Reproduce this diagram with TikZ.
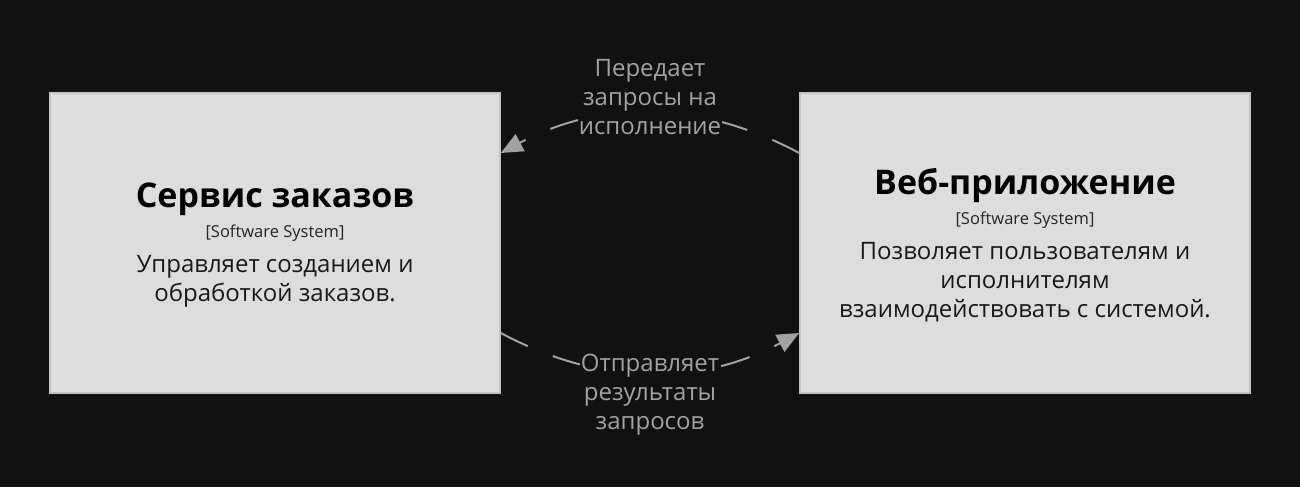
\documentclass[tikz,border=0pt]{standalone}
\usepackage{fontspec}
\setmainfont{Open Sans}
\usetikzlibrary{positioning,arrows.meta}
\definecolor{bg}{HTML}{111111}
\definecolor{boxfill}{HTML}{DDDDDD}
\definecolor{boxline}{HTML}{C4C4C4}
\definecolor{relgray}{HTML}{A2A2A2}

\begin{document}
\begin{tikzpicture}[x=1pt,y=1pt,
	sysbox/.style={draw=boxline, line width=1.5pt, fill=boxfill, minimum width=450pt, minimum height=300pt, inner sep=0pt},
	sysname/.style={font=\fontsize{34}{40}\selectfont\bfseries, text=black, inner sep=0pt},
	systype/.style={font=\fontsize{16.5}{19}\selectfont, text=black!85, inner sep=0pt},
	sysdesc/.style={font=\fontsize{24}{29}\selectfont, text=black!90, align=center, inner sep=0pt},
	rel/.style={draw=relgray, line width=2pt, dash pattern=on 30pt off 27pt, ->},
	rellabel/.style={font=\fontsize{24}{29}\selectfont, text=relgray, fill=bg, align=center, inner sep=1pt},
	>={Triangle[length=22pt,width=19pt]}]
	\fill[bg] (0,0) rectangle (1300,487);

	% order service
	\node[sysbox] (ord) at (275,244) {};
	\node[sysname, above=35pt of ord.center, anchor=base] (ordname) {Сервис заказов};
	\node[systype, below=29.7pt of ordname.base, anchor=base] (ordtype) {[Software System]};
	% base = last line
	\node[sysdesc, below=64.3pt of ordtype.base, anchor=base] (orddesc) {Управляет созданием и\\обработкой заказов.};

	% web app
	\node[sysbox] (web) at (1025,244) {};
	\node[sysname, above=48.5pt of web.center, anchor=base] (webname) {Веб-приложение};
	\node[systype, below=29.7pt of webname.base, anchor=base] (webtype) {[Software System]};
	\node[sysdesc, below=93.3pt of webtype.base, anchor=base] (webdesc) {Позволяет пользователям и\\исполнителям\\взаимодействовать с системой.};

	% relations
	\draw[rel] ([yshift=90pt]web.west) .. controls +(-100,53.3) and +(100,53.3) .. ([yshift=90pt]ord.east)
		node[rellabel, midway, yshift=16pt] (req) {Передает\\запросы на\\исполнение};
	\draw[rel] ([yshift=-90pt]ord.east) .. controls +(100,-53.3) and +(-100,-53.3) .. ([yshift=-90pt]web.west)
		node[rellabel, midway, yshift=-22pt] (res) {Отправляет\\результаты\\запросов};
\end{tikzpicture}
\end{document}
